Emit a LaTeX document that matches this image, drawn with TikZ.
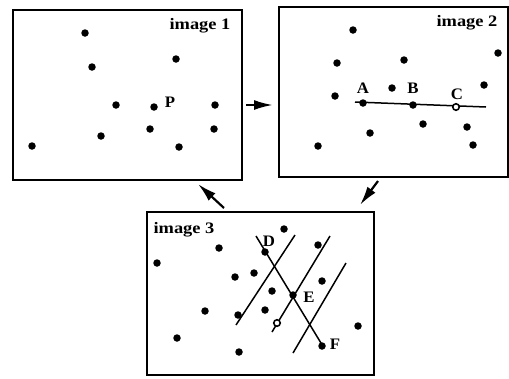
\documentclass[tikz,border=0pt]{standalone}
\usepackage{fontspec}
\setmainfont{Liberation Serif}
\usetikzlibrary{arrows.meta}
\begin{document}
\begin{tikzpicture}[x=1pt,y=-1pt,
  frame/.style={draw=black,line width=2.5pt},
  dot/.style={circle,fill=black,inner sep=0pt,minimum size=7.5pt},
  ring/.style={circle,draw=black,fill=white,line width=1.6pt,inner sep=0pt,minimum size=6.5pt},
  lbl/.style={font=\bfseries\fontsize{16}{16}\selectfont,xscale=1.15,inner sep=0pt},
  ptl/.style={font=\bfseries\fontsize{16}{16}\selectfont,xscale=1.05,inner sep=0pt},
  seg/.style={line width=1.5pt},
  flow/.style={line width=2.2pt,-{Latex[length=19pt,width=10pt]}}]
\useasboundingbox (0,0) rectangle (509,378);
\fill[white] (0,0) rectangle (509,378);
% frames
\draw[frame] (13,10) rectangle (242,180);
\draw[frame] (279,7) rectangle (508,177);
\draw[frame] (147,212) rectangle (374,375);
\node[lbl] (t1) at (200,26) {image 1};
\node[lbl] (t2) at (467,23) {image 2};
\node[lbl] (t3) at (184,230) {image 3};
% image 1 points
\foreach \p [count=\i] in {(85,33),(92,67),(176,59),(116,105),(215,105),(150,129),(214,129),(101,136),(32,146),(179,147)}
  \node[dot] (a\i) at \p {};
\node[dot] (P) at (154,107) {};
\node[ptl] (Pl) at (170,102) {P};
% image 2 points
\foreach \p [count=\i] in {(353,30),(498,53),(337,63),(404,60),(335,96),(392,88),(484,85),(423,124),(467,127),(370,133),(318,146),(473,145)}
  \node[dot] (b\i) at \p {};
\coordinate (L0) at (355,102);
\coordinate (L1) at (486,107);
\draw[seg] (L0) -- (L1);
\node[dot] (A) at (363,103) {};
\node[dot] (B) at (413,105) {};
\node[ring] (C) at (456,107) {};
\node[ptl] (Al) at (363,88) {A};
\node[ptl] (Bl) at (413,88) {B};
\node[ptl] (Cl) at (457,94) {C};
% image 3 points
\foreach \p [count=\i] in {(284,229),(219,248),(157,263),(318,245),(254,273),(235,277),(322,281),(272,291),(205,311),(238,315),(265,310),(358,326),(177,338),(239,352)}
  \node[dot] (c\i) at \p {};
\coordinate (d0) at (256,236);
\coordinate (d1) at (324,348);
\coordinate (m1a) at (236,325);
\coordinate (m1b) at (295,235);
\coordinate (m2a) at (272,332);
\coordinate (m2b) at (330,236);
\coordinate (m3a) at (293,353);
\coordinate (m3b) at (346,263);
\draw[seg] (d0) -- (d1);
\draw[seg] (m1a) -- (m1b);
\draw[seg] (m2a) -- (m2b);
\draw[seg] (m3a) -- (m3b);
\node[dot] (D) at (265,252) {};
\node[dot] (E) at (293,295) {};
\node[dot] (F) at (322,346) {};
\node[ring] (R) at (277,323) {};
\node[ptl] (Dl) at (269,241) {D};
\node[ptl] (El) at (309,297) {E};
\node[ptl] (Fl) at (335,344) {F};
% arrows between frames
\coordinate (s1) at (246,105);
\coordinate (e1) at (273,105);
\coordinate (s2) at (378,181);
\coordinate (e2) at (360,205);
\coordinate (s3) at (224,208);
\coordinate (e3) at (198,184);
\draw[flow] (s1) -- (e1);
\draw[flow] (s2) -- (e2);
\draw[flow] (s3) -- (e3);
\end{tikzpicture}
\end{document}
